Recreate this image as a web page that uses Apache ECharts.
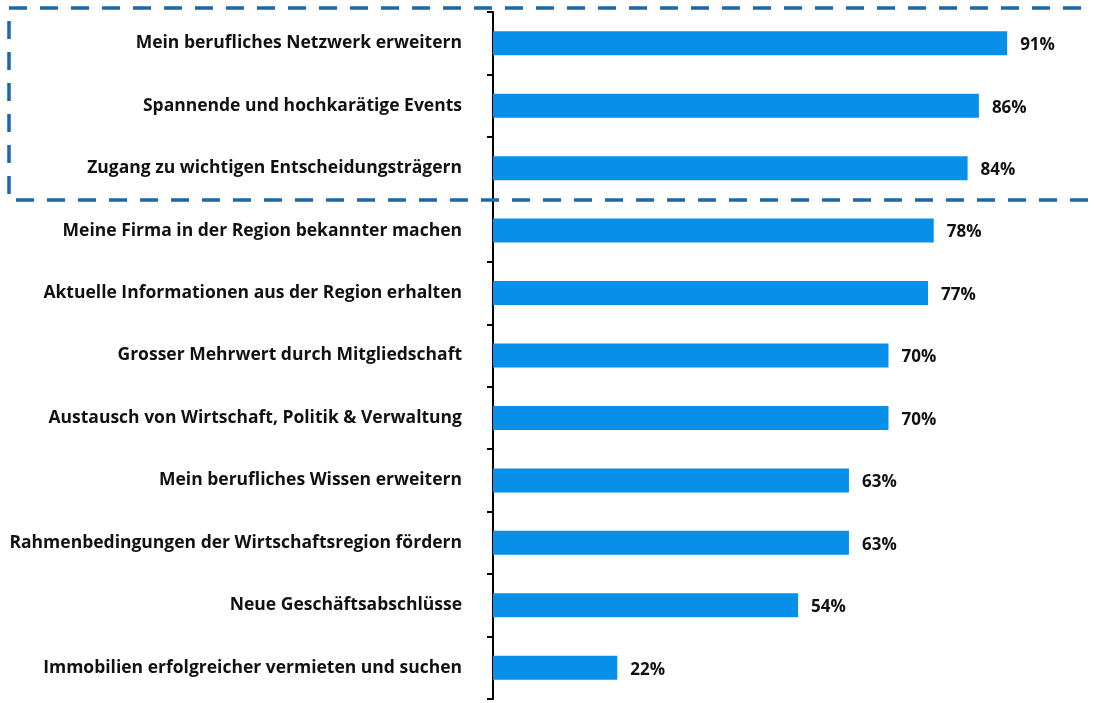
<!DOCTYPE html>
<html>
<head>
<meta charset="utf-8">
<script src="https://cdn.jsdelivr.net/npm/echarts@6/dist/echarts.min.js"></script>
<style>
  html, body { margin: 0; padding: 0; background: #fff; }
  #chart { width: 1094px; height: 703px; }
</style>
</head>
<body>
<div id="chart"></div>
<script>
// Kategorien von oben nach unten
const categories = [
  "Mein berufliches Netzwerk erweitern",
  "Spannende und hochkarätige Events",
  "Zugang zu wichtigen Entscheidungsträgern",
  "Meine Firma in der Region bekannter machen",
  "Aktuelle Informationen aus der Region erhalten",
  "Grosser Mehrwert durch Mitgliedschaft",
  "Austausch von Wirtschaft, Politik & Verwaltung",
  "Mein berufliches Wissen erweitern",
  "Rahmenbedingungen der Wirtschaftsregion fördern",
  "Neue Geschäftsabschlüsse",
  "Immobilien erfolgreicher vermieten und suchen"
];
const values = [91, 86, 84, 78, 77, 70, 70, 63, 63, 54, 22];

const labelFont = "'Open Sans', 'DejaVu Sans', sans-serif";

let chart = echarts.init(document.getElementById("chart"));

let option = {
  animation: false,
  backgroundColor: "#ffffff",
  grid: {
    left: 493,
    right: 36,
    top: 12,
    bottom: 4
  },
  xAxis: {
    type: "value",
    min: 0,
    max: 100,
    show: false
  },
  yAxis: {
    type: "category",
    inverse: true,
    data: categories,
    axisLine: { show: true, lineStyle: { color: "#000", width: 2 } },
    axisTick: { show: true, length: 6, lineStyle: { color: "#000", width: 2 } },
    axisLabel: {
      margin: 31,
      color: "#111",
      fontFamily: labelFont,
      fontWeight: "bold",
      fontSize: 17.5
    }
  },
  series: [
    {
      type: "bar",
      data: values,
      barWidth: 24,
      itemStyle: { color: "#0890E8" },
      label: {
        show: true,
        position: "right",
        distance: 13,
        formatter: "{c}%",
        color: "#111",
        fontFamily: labelFont,
        fontWeight: "bold",
        fontSize: 17,
        offset: [0, 2]
      }
    }
  ],
  graphic: [
    {
      type: "rect",
      shape: { x: 9, y: 8, width: 1110, height: 192 },
      silent: true,
      z: 100,
      style: {
        fill: null,
        stroke: "#1A68A8",
        lineWidth: 3.5,
        lineDash: [18, 13]
      }
    }
  ]
};

chart.setOption(option, true);
</script>
</body>
</html>
